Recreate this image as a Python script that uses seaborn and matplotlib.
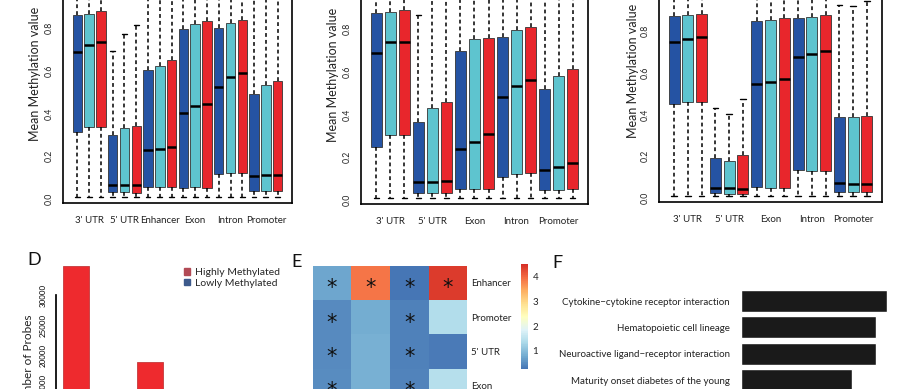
import matplotlib
matplotlib.use("Agg")
import matplotlib.pyplot as plt
import seaborn as sns
import numpy as np
import pandas as pd
from matplotlib.patches import Patch
from matplotlib.colors import ListedColormap

W, H = 917, 389

# ---- data -------------------------------------------------------------
box_colors = ["#2553a3", "#5ec4cf", "#e8262c"]

a_regions = ["3' UTR", "5' UTR", "Enhancer", "Exon", "Intron", "Promoter"]
a_q1 = [[0.314, 0.335, 0.338], [0.031, 0.031, 0.026], [0.054, 0.056, 0.056],
        [0.053, 0.054, 0.053], [0.115, 0.120, 0.123], [0.039, 0.039, 0.039]]
a_med = [[0.688, 0.719, 0.735], [0.066, 0.066, 0.066], [0.229, 0.232, 0.241],
         [0.403, 0.434, 0.444], [0.525, 0.570, 0.590], [0.107, 0.111, 0.114]]
a_q3 = [[0.859, 0.867, 0.878], [0.299, 0.330, 0.342], [0.602, 0.621, 0.649],
        [0.797, 0.820, 0.831], [0.802, 0.825, 0.839], [0.490, 0.532, 0.554]]
a_hi = [[1.0, 1.0, 1.0], [0.693, 0.774, 0.813], [1.0, 1.0, 1.0],
        [1.0, 1.0, 1.0], [1.0, 1.0, 1.0], [1.0, 1.0, 1.0]]

b_regions = ["3' UTR", "5' UTR", "Exon", "Intron", "Promoter"]
b_q1 = [[0.250, 0.303, 0.303], [0.031, 0.031, 0.031], [0.050, 0.050, 0.050],
        [0.109, 0.120, 0.125], [0.047, 0.045, 0.050]]
b_med = [[0.690, 0.741, 0.741], [0.084, 0.086, 0.090], [0.239, 0.270, 0.310],
         [0.480, 0.532, 0.560], [0.140, 0.153, 0.175]]
b_q3 = [[0.874, 0.878, 0.889], [0.367, 0.429, 0.460], [0.699, 0.752, 0.760],
        [0.764, 0.793, 0.808], [0.521, 0.579, 0.613]]
b_hi = [[1.0, 1.0, 1.0], [0.867, 1.0, 1.0], [1.0, 1.0, 1.0],
        [1.0, 1.0, 1.0], [1.0, 1.0, 1.0]]

c_regions = ["3' UTR", "5' UTR", "Exon", "Intron", "Promoter"]
c_q1 = [[0.450, 0.458, 0.461], [0.024, 0.021, 0.021], [0.053, 0.050, 0.050],
        [0.135, 0.130, 0.130], [0.029, 0.029, 0.029]]
c_med = [[0.749, 0.762, 0.770], [0.048, 0.048, 0.045], [0.546, 0.557, 0.570],
         [0.674, 0.691, 0.706], [0.070, 0.069, 0.067]]
c_q3 = [[0.874, 0.875, 0.880], [0.190, 0.176, 0.204], [0.848, 0.854, 0.861],
        [0.861, 0.866, 0.875], [0.389, 0.386, 0.394]]
c_hi = [[1.0, 1.0, 1.0], [0.432, 0.402, 0.472], [1.0, 1.0, 1.0],
        [1.0, 1.0, 1.0], [0.925, 0.922, 0.944]]
whisker_low = 0.01

d_groups = ["first", "second"]
d_high = [34900, 18900]

e_rows = ["Enhancer", "Promoter", "5' UTR", "Exon"]
e_cols = ["c1", "c2", "c3", "c4"]
e_values = [[0.75, 3.9, 0.30, 4.4],
            [0.48, 0.80, 0.40, 1.40],
            [0.48, 0.85, 0.40, 0.33],
            [0.50, 0.85, 0.42, 1.45]]
e_signif = [[1, 1, 1, 1],
            [1, 0, 1, 0],
            [1, 0, 1, 0],
            [1, 0, 1, 0]]

f_terms = ["Cytokine\u2212cytokine receptor interaction",
           "Hematopoietic cell lineage",
           "Neuroactive ligand\u2212receptor interaction",
           "Maturity onset diabetes of the young"]
f_values = [14.6, 13.5, 13.5, 11.1]

# ---- style ------------------------------------------------------------
sns.set_theme(style="white")
plt.rcParams["font.family"] = ["Lato", "DejaVu Sans"]

fig = plt.figure(figsize=(W / 100, H / 100), dpi=100)


def px_axes(l, t, r, b):
    return fig.add_axes([l / W, 1 - b / H, (r - l) / W, (b - t) / H])


def box_panel(l, r, y0, scale, regions, q1, med, q3, hi, label_x, label_y):
    top = y0 - 1.02 * scale
    bottom = y0 + 0.02 * scale
    ax = px_axes(l, top, r, bottom)
    stats, cols, pos = [], [], []
    k = 1
    for i in range(len(regions)):
        for j in range(3):
            stats.append(dict(q1=q1[i][j], med=med[i][j], q3=q3[i][j],
                              whislo=whisker_low, whishi=hi[i][j], fliers=[]))
            cols.append(box_colors[j])
            pos.append(k)
            k += 1
    n = len(stats)
    art = ax.bxp(stats, positions=pos, widths=0.8, capwidths=0.4,
                 patch_artist=True, showfliers=False, manage_ticks=False,
                 boxprops=dict(edgecolor="#333333", linewidth=0.6),
                 medianprops=dict(color="black", linewidth=1.8),
                 whiskerprops=dict(color="black", linewidth=1.1,
                                   linestyle=(0, (2.5, 2))),
                 capprops=dict(color="black", linewidth=1.0))
    for patch, c in zip(art["boxes"], cols):
        patch.set_facecolor(c)
    ax.set_xlim(0.5 - 0.04 * n, n + 0.5 + 0.04 * n)
    ax.set_ylim(-0.02, 1.02)
    ax.set_xticks([3 * i + 2 for i in range(len(regions))])
    ax.set_xticklabels(regions, fontsize=7)
    yt = np.arange(0, 0.81, 0.2)
    ax.set_yticks(yt)
    ax.set_yticklabels([f"{v:.1f}" for v in yt], rotation=90, va="center", fontsize=6.3)
    ax.tick_params(axis="x", length=5, width=1, pad=4, colors="black")
    ax.tick_params(axis="y", length=4, width=1, pad=3, colors="black")
    ax.tick_params(labelcolor="#222222")
    for s in ax.spines.values():
        s.set_color("black")
        s.set_linewidth(1.2)
    ax.set_ylabel("Mean Methylation value", fontsize=9, color="#222222")
    ax.yaxis.set_label_coords((label_x - l) / (r - l),
                              (bottom - label_y) / (bottom - top))
    return ax


box_panel(63, 292, 199, 213.75, a_regions, a_q1, a_med, a_q3, a_hi, 41, 74)
box_panel(361, 588, 200, 213.75, b_regions, b_q1, b_med, b_q3, b_hi, 339, 75)
box_panel(659, 882, 198, 208.75, c_regions, c_q1, c_med, c_q3, c_hi, 639, 71)

# ---- D: probe counts --------------------------------------------------
axd = px_axes(56, 250, 280, 475)
d_df = pd.DataFrame({"group": d_groups, "probes": d_high})
sns.barplot(data=d_df, x="group", y="probes", color="#ee2a2e", width=0.35,
            saturation=1, edgecolor="#c33a3c", linewidth=0.6, ax=axd)
axd.set_xlim(-0.268, 2.74)
axd.set_ylim(0, 37500)
axd.set_yticks(range(0, 30001, 5000))
axd.set_yticklabels([str(v) for v in range(0, 30001, 5000)], rotation=90,
                    va="center", fontsize=5.7)
axd.set_xticks([])
axd.set_xlabel("")
axd.set_ylabel("Number of Probes", fontsize=8.5, color="#222222", labelpad=4)
for s in ["top", "right", "bottom"]:
    axd.spines[s].set_visible(False)
axd.spines["left"].set_bounds(0, 30000)
axd.spines["left"].set_color("black")
axd.tick_params(axis="y", length=5, width=1, pad=2, colors="black")
handles = [Patch(color="#b24a55", label="Highly Methylated"),
           Patch(color="#3d5a8c", label="Lowly Methylated")]
axd.legend(handles=handles, frameon=False, fontsize=7.5, loc="upper left",
           bbox_to_anchor=(184 / W, 1 - 268 / H), bbox_transform=fig.transFigure,
           handlelength=0.6, handleheight=0.6, handletextpad=0.5,
           labelspacing=0.15, borderpad=0, borderaxespad=0)

# ---- E: enrichment heatmap --------------------------------------------
axe = px_axes(312.7, 265.7, 467.3, 265.7 + 4 * 34.3)
cax = px_axes(520.7, 264.3, 528.3, 369)
cmap = ListedColormap(plt.get_cmap("RdYlBu_r")(np.linspace(0.1, 0.9, 256)))
e_df = pd.DataFrame(e_values, index=e_rows, columns=e_cols)
sns.heatmap(e_df, cmap=cmap, vmin=0.27, vmax=4.5, ax=axe, cbar_ax=cax,
            cbar_kws=dict(ticks=[1, 2, 3, 4]))
for i in range(len(e_rows)):
    for j in range(len(e_cols)):
        if e_signif[i][j]:
            axe.annotate("*", (j + 0.5, i + 0.5), xytext=(0, -4),
                         textcoords="offset points", ha="center", va="center",
                         fontsize=15, color="#111111", family="DejaVu Sans")
axe.set_xticks([])
axe.set_xlabel("")
axe.set_ylabel("")
axe.yaxis.tick_right()
axe.set_yticklabels(e_rows, rotation=0, fontsize=7, color="#222222")
axe.tick_params(axis="y", length=0, pad=3)
cax.tick_params(length=0, labelsize=7, pad=3, labelcolor="#222222")
axe.collections[0].colorbar.outline.set_visible(False)

# ---- F: pathway bars --------------------------------------------------
axf = px_axes(741, 288, 900, 288 + 4 * 26.3)
sns.barplot(x=f_values, y=f_terms, orient="h", color="#1a1a1a", saturation=1,
            width=0.84, ax=axf)
axf.set_xlim(0, 15.9)
axf.set_ylim(3.5, -0.5)
axf.set_xticks([])
axf.tick_params(axis="y", length=0, pad=8, labelsize=7, labelcolor="#222222")
for s in axf.spines.values():
    s.set_visible(False)

# ---- panel letters ----------------------------------------------------
for letter, x, y in [("D", 27, 260), ("E", 291, 262), ("F", 552, 263)]:
    fig.text(x / W, 1 - y / H, letter, fontsize=13, va="center", ha="left",
             color="#111111")

fig.savefig("out.png", dpi=100, facecolor="white")
